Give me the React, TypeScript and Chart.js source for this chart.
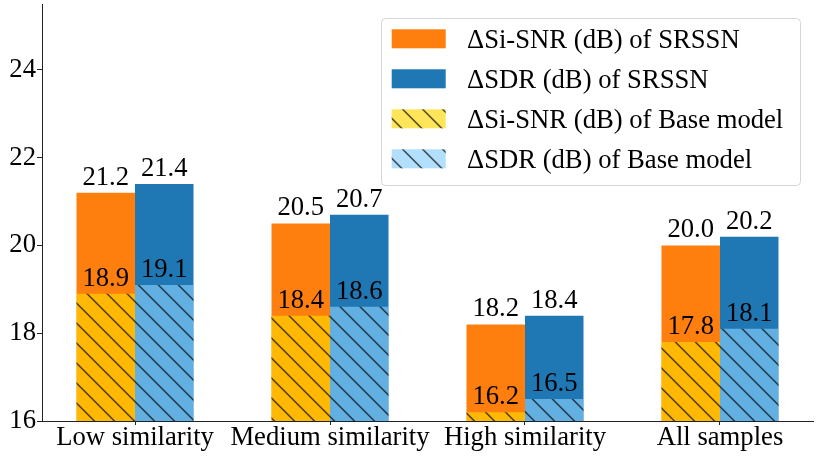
import React, { useEffect, useRef } from 'react';
import { Chart, registerables } from 'chart.js';

Chart.register(...registerables);

const categories = ['Low similarity', 'Medium similarity', 'High similarity', 'All samples'];
const srssnSiSnr = [21.2, 20.5, 18.2, 20.0];
const srssnSdr = [21.4, 20.7, 18.4, 20.2];
const baseSiSnr = [18.9, 18.4, 16.2, 17.8];
const baseSdr = [19.1, 18.6, 16.5, 18.1];
const yTicks = [16, 18, 20, 22, 24];
const seriesLabels = [
  'ΔSi-SNR (dB) of SRSSN',
  'ΔSDR (dB) of SRSSN',
  'ΔSi-SNR (dB) of Base model',
  'ΔSDR (dB) of Base model',
];

const FONT = '"Liberation Serif", "Times New Roman", serif';
const FS = 26.67;

function makeHatch(bg: string, line: string) {
  const size = 20;
  const c = document.createElement('canvas');
  c.width = size;
  c.height = size;
  const g = c.getContext('2d')!;
  g.fillStyle = bg;
  g.fillRect(0, 0, size, size);
  g.strokeStyle = line;
  g.lineWidth = 1.6;
  g.beginPath();
  for (let k = -2; k <= 2; k++) {
    const c0 = 6.6 + size * k;
    g.moveTo(-10, -10 + c0);
    g.lineTo(size + 10, size + 10 + c0);
  }
  g.stroke();
  return g.createPattern(c, 'repeat')!;
}

export default function App() {
  const ref = useRef<HTMLCanvasElement | null>(null);

  useEffect(() => {
    const canvas = ref.current!;
    const orange = '#ff7f0e';
    const blue = '#1f77b4';
    const goldHatch = makeHatch('rgba(255,215,0,0.65)', 'rgba(0,0,0,0.65)');
    const skyHatch = makeHatch('rgba(135,206,250,0.65)', 'rgba(0,0,0,0.65)');
    const fills: any[] = [orange, blue, goldHatch, skyHatch];
    const seriesValues = [srssnSiSnr, srssnSdr, baseSiSnr, baseSdr];
    const stacks = ['si', 'sdr', 'si', 'sdr'];
    const orders = [1, 1, 0, 0];

    const overlay = {
      id: 'overlay',
      afterDatasetsDraw(chart: any) {
        const ctx = chart.ctx;
        const ys = chart.scales.y;
        ctx.save();
        ctx.font = `${FS}px ${FONT}`;
        ctx.fillStyle = '#000';
        ctx.textAlign = 'center';
        ctx.textBaseline = 'alphabetic';
        seriesValues.forEach((vals, di) => {
          const meta = chart.getDatasetMeta(di);
          meta.data.forEach((el: any, i: number) => {
            ctx.fillText(vals[i].toFixed(1), el.x, ys.getPixelForValue(vals[i]) - 8);
          });
        });
        ctx.restore();
      },
      afterDraw(chart: any) {
        const ctx = chart.ctx;
        ctx.save();
        const bx = 381.5, by = 18.5, bw = 419, bh = 167, r = 4;
        ctx.beginPath();
        ctx.moveTo(bx + r, by);
        ctx.lineTo(bx + bw - r, by);
        ctx.arcTo(bx + bw, by, bx + bw, by + r, r);
        ctx.lineTo(bx + bw, by + bh - r);
        ctx.arcTo(bx + bw, by + bh, bx + bw - r, by + bh, r);
        ctx.lineTo(bx + r, by + bh);
        ctx.arcTo(bx, by + bh, bx, by + bh - r, r);
        ctx.lineTo(bx, by + r);
        ctx.arcTo(bx, by, bx + r, by, r);
        ctx.closePath();
        ctx.fillStyle = 'rgba(255,255,255,0.8)';
        ctx.fill();
        ctx.strokeStyle = '#d6d6d6';
        ctx.lineWidth = 1;
        ctx.stroke();
        ctx.font = `${FS}px ${FONT}`;
        ctx.textAlign = 'left';
        ctx.textBaseline = 'alphabetic';
        seriesLabels.forEach((lab, i) => {
          const top = 29.3 + 40 * i;
          ctx.fillStyle = fills[i];
          ctx.fillRect(391.7, top, 54, 19);
          ctx.fillStyle = '#000';
          ctx.fillText(lab, 467, 48.3 + 40 * i);
        });
        ctx.restore();
      },
    };

    const chart = new Chart(canvas, {
      type: 'bar',
      data: {
        datasets: seriesValues.map((vals, di) => ({
          label: seriesLabels[di],
          data: vals.map((v, i) => ({ x: i, y: v })),
          backgroundColor: fills[di],
          borderWidth: 0,
          stack: stacks[di],
          order: orders[di],
          categoryPercentage: 0.6,
          barPercentage: 1.0,
        })),
      },
      options: {
        animation: false,
        responsive: false,
        events: [],
        layout: { padding: { left: 0, right: 17, top: 4, bottom: 0 } },
        plugins: {
          legend: { display: false },
          tooltip: { enabled: false },
        },
        scales: {
          x: {
            type: 'linear',
            min: -0.477,
            max: 3.477,
            offset: false,
            afterBuildTicks: (scale: any) => {
              scale.ticks = categories.map((_, i) => ({ value: i }));
            },
            afterFit: (scale: any) => {
              scale.height = 37;
              scale.paddingLeft = 0;
              scale.paddingRight = 0;
            },
            grid: {
              offset: false,
              drawOnChartArea: false,
              drawTicks: true,
              tickLength: 4,
              color: '#222',
            },
            border: { display: true, color: '#222', width: 1 },
            ticks: {
              padding: 0,
              color: '#000',
              maxRotation: 0,
              minRotation: 0,
              autoSkip: false,
              font: { family: FONT, size: FS, lineHeight: 1 },
              callback: (v: any) => categories[Math.round(Number(v))] ?? '',
            },
          },
          y: {
            type: 'linear',
            min: 16,
            max: 25.5,
            stacked: false,
            afterBuildTicks: (scale: any) => {
              scale.ticks = yTicks.map((v) => ({ value: v }));
            },
            afterFit: (scale: any) => {
              scale.width = 42;
              scale.paddingTop = 0;
              scale.paddingBottom = 0;
            },
            grid: {
              drawOnChartArea: false,
              drawTicks: true,
              tickLength: 5,
              color: '#222',
            },
            border: { display: true, color: '#222', width: 1 },
            ticks: {
              padding: 1,
              color: '#000',
              font: { family: FONT, size: FS },
              callback: (v: any) => String(v),
            },
          },
        },
      },
      plugins: [overlay],
    } as any);

    return () => chart.destroy();
  }, []);

  return (
    <div style={{ position: 'absolute', left: 0, top: 0, width: 830, height: 458, background: '#fff' }}>
      <canvas ref={ref} width={830} height={458} style={{ width: 830, height: 458, display: 'block' }} />
    </div>
  );
}
